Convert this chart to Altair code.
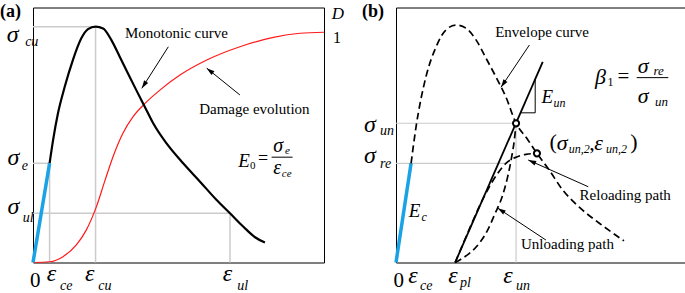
import math
import altair as alt
import pandas as pd

SERIF = "Liberation Serif"

# ---------------- panel (a): monotonic curve + damage evolution ----------------
A_EPS_CE, A_EPS_CU, A_EPS_UL = 5.7, 21.5, 67.7
A_SIG_E, A_SIG_CU, A_SIG_UL = 38.9, 92.5, 19.3

mono_strain = [5.7, 6.9, 8.6, 10.9, 13.7, 16.6, 18.9, 21.5, 24.1, 26.9, 29.8, 32.6,
               35.5, 38.4, 41.3, 45.9, 51.6, 57.4, 63.1, 67.7, 72.3, 76.3, 79.7]
mono_stress = [38.9, 48.0, 58.6, 68.9, 79.4, 87.9, 91.5, 92.5, 91.8, 87.3, 80.7, 74.2,
               67.6, 61.1, 54.6, 46.7, 38.9, 31.7, 24.5, 19.3, 14.0, 9.9, 7.8]
damage_strain = [0, 5.7, 10.3, 14.9, 18.3, 21.8, 24.6, 27.5, 30.9, 34.4, 38.5, 43.6,
                 50.5, 59.7, 71.1, 82.6, 91.8, 100]
damage_D = [0, 0.3, 2.3, 6.9, 12.7, 21.9, 31.7, 41.5, 50.7, 57.2, 62.4, 67.6,
            73.5, 79.4, 84.6, 88.3, 89.9, 90.3]

a_arrows = [(46.5, 84.6, 37.4, 68.3), (71.1, 65.7, 59.7, 76.2)]   # tail -> tip

a_sym = [("σ", -9.0, 86.6), ("σ", -8.8, 38.2), ("σ", -8.8, 19.0),
         ("ε", 4.7, -7.3), ("ε", 17.9, -7.3), ("ε", 65.2, -7.3)]
a_sub = [("cu", -2.7, 84.9), ("e", -3.9, 36.3), ("ul", -3.5, 15.9),
         ("ce", 9.3, -10.8), ("cu", 22.4, -10.8), ("ul", 70.2, -10.8)]
a_zero = [("0", -1.0, -9.5)]
a_one = [("1", 103.1, 86.1)]
a_D = [("D", 102.7, 95.5)]
a_words = [("Monotonic curve", 31.6, 88.0), ("Damage evolution", 57.1, 58.1)]
a_fE = [("E", 70.5, 37.6)]
a_fzero = [("0", 74.6, 36.7)]
a_feq = [("=", 77.3, 38.5)]
a_fsym = [("σ", 82.6, 43.5), ("ε", 82.6, 34.8)]
a_fsub = [("e", 86.6, 42.7), ("ce", 85.5, 33.4)]
a_fbar = [(82.0, 41.3, 89.2, 41.3)]
a_tag = [("(a)", -11.3, 96.1)]

# ---------------- panel (b): envelope, unloading and reloading ----------------
B_EPS_CE, B_EPS_PL, B_EPS_UN = 5.2, 20.4, 41.4
B_SIG_RE, B_SIG_UN = 38.9, 54.6
B_RE_END = 38.3

env_strain = [5.2, 6.9, 10.3, 13.8, 17.2, 20.7, 24.1, 27.6, 31.0, 34.5, 37.9, 41.4,
              45.1, 48.6, 52.8, 57.5, 63.1, 70.0, 78.6]
env_stress = [38.9, 53.1, 72.7, 84.5, 91.2, 93.1, 91.9, 87.3, 80.2, 72.7, 64.9, 54.6,
              48.7, 42.8, 36.3, 28.4, 21.8, 15.5, 8.5]
unload_strain = [41.4, 40.8, 39.9, 38.5, 36.6, 34.2, 31.6, 28.7, 25.3, 22.4, 20.4]
unload_stress = [54.6, 48.0, 41.5, 33.6, 25.8, 19.3, 12.7, 7.5, 3.6, 1.3, 0]
reload_strain = [20.4, 24.7, 28.7, 32.2, 35.1, 37.9, 41.4, 44.8, 48.6]
reload_stress = [0, 11.5, 21.9, 29.7, 35.0, 38.9, 41.3, 42.4, 42.8]
unload_line = [(20.4, 0.0, 50.6, 78.7)]
slope_tri = [(42.9, 58.7, 48.0, 58.7), (48.0, 58.7, 48.0, 71.6)]
marked_strain = [41.4, 48.6]
marked_stress = [54.6, 42.8]

b_arrows = [(46.0, 85.3, 36.2, 68.7), (66.3, 29.7, 45.6, 40.2), (51.7, 8.8, 35.1, 21.3)]

b_sym = [("σ", -11.0, 51.3), ("σ", -11.0, 38.9), ("ε", 4.2, -8.0), ("ε", 18.0, -8.0),
         ("ε", 37.0, -8.0)]
b_sub = [("un", -5.5, 50.0), ("re", -5.5, 37.1), ("ce", 8.3, -10.8), ("pl", 22.1, -9.6),
         ("un", 41.4, -10.8)]
b_psym = [("σ", 55.4, 44.1), ("ε", 68.4, 44.1)]
b_psub = [("un,2", 59.6, 42.9), ("un,2", 72.4, 42.9)]
b_zero = [("0", -0.9, -9.5)]
b_punct = [("(", 52.9, 44.5), (",", 66.6, 44.1), (")", 80.8, 44.5)]
b_E = [("E", 4.4, 18.0), ("E", 50.2, 62.4)]
b_Esub = [("c", 8.8, 16.3), ("un", 54.3, 61.1)]
b_beta = [("β", 68.6, 69.9)]
b_bsub = [("1", 72.9, 69.2)]
b_eq = [("=", 76.4, 70.4)]
b_fsym = [("σ", 83.4, 74.2), ("σ", 83.4, 62.4)]
b_fsub = [("re", 88.8, 73.5), ("un", 89.3, 61.4)]
b_fbar = [(83.0, 72.5, 93.9, 72.5)]
b_words = [("Envelope curve", 34.2, 88.5), ("Reloading path", 63.3, 24.5),
           ("Unloading path", 43.1, 5.2)]
b_tag = [("(b)", -11.7, 96.1)]

W_A, W_B, H = 291, 290, 255
BLUE = "#19a3e6"
GRID = "#cbcbcb"
HEAD = "M0,0L-0.6,2L0.6,2Z"


def X():
    return alt.X("x:Q", scale=alt.Scale(domain=[0, 100], nice=False, zero=False), axis=None)


def Y():
    return alt.Y("y:Q", scale=alt.Scale(domain=[0, 100], nice=False, zero=False), axis=None)


def curve(xs, ys, **mark):
    df = pd.DataFrame({"x": xs, "y": ys})
    return alt.Chart(df).mark_line(interpolate="monotone", **mark).encode(x=X(), y=Y())


def segs(rows, **mark):
    df = pd.DataFrame(rows, columns=["x", "y", "x2", "y2"])
    return alt.Chart(df).mark_rule(**mark).encode(x=X(), y=Y(), x2="x2:Q", y2="y2:Q")


def texts(rows, size, style="normal", weight="normal"):
    df = pd.DataFrame(rows, columns=["t", "x", "y"])
    return alt.Chart(df).mark_text(font=SERIF, fontSize=size, fontStyle=style,
                                   fontWeight=weight, align="left", baseline="alphabetic",
                                   color="black").encode(x=X(), y=Y(), text="t:N")


def arrows(rows, width):
    kx, ky = width / 100.0, H / 100.0
    heads = []
    for x0, y0, x1, y1 in rows:
        ang = math.degrees(math.atan2((x1 - x0) * kx, (y1 - y0) * ky)) % 360
        heads.append({"x": x1, "y": y1, "a": ang})
    shaft = segs(rows, color="black", strokeWidth=1)
    head = alt.Chart(pd.DataFrame(heads)).mark_point(
        shape=HEAD, filled=True, color="black", size=64, opacity=1
    ).encode(x=X(), y=Y(), angle=alt.Angle("a:Q", scale=None))
    return [shaft, head]


# ---------- panel (a) ----------
grid_a = segs([
    (0, A_SIG_CU, A_EPS_CU, A_SIG_CU), (A_EPS_CU, 0, A_EPS_CU, A_SIG_CU),
    (0, A_SIG_E, A_EPS_CE, A_SIG_E), (A_EPS_CE, 0, A_EPS_CE, A_SIG_E),
    (0, A_SIG_UL, A_EPS_UL, A_SIG_UL), (A_EPS_UL, 0, A_EPS_UL, A_SIG_UL),
], color=GRID, strokeWidth=1.5)

layers_a = [
    grid_a,
    curve(damage_strain, damage_D, color="#ff1a1a", strokeWidth=1.2),
    curve(mono_strain, mono_stress, color="black", strokeWidth=2.2),
    segs([(0, 0, A_EPS_CE, A_SIG_E)], color=BLUE, strokeWidth=3.5),
    *arrows(a_arrows, W_A),
    segs(a_fbar, color="black", strokeWidth=1),
    texts(a_sym, 24, "italic"),
    texts(a_sub, 14, "italic"),
    texts(a_zero, 21),
    texts(a_one, 16),
    texts(a_D, 17, "italic"),
    texts(a_words, 15),
    texts(a_fE, 19, "italic"),
    texts(a_fzero, 11),
    texts(a_feq, 18),
    texts(a_fsym, 20, "italic"),
    texts(a_fsub, 11, "italic"),
    texts(a_tag, 18, weight="bold"),
]

# ---------- panel (b) ----------
grid_b = segs([
    (0, B_SIG_UN, B_EPS_UN, B_SIG_UN), (B_EPS_UN, 0, B_EPS_UN, B_SIG_UN),
    (0, B_SIG_RE, B_RE_END, B_SIG_RE),
], color=GRID, strokeWidth=1.2)

dash = dict(color="black", strokeWidth=1.7, strokeDash=[7, 4])
circles = alt.Chart(pd.DataFrame({"x": marked_strain, "y": marked_stress})).mark_point(
    shape="circle", filled=True, fill="white", stroke="black", strokeWidth=2, size=38, opacity=1
).encode(x=X(), y=Y())

layers_b = [
    grid_b,
    segs([(0, 0, B_EPS_CE, B_SIG_RE)], color=BLUE, strokeWidth=3.5),
    curve(env_strain, env_stress, **dash),
    curve(unload_strain, unload_stress, **dash),
    curve(reload_strain, reload_stress, **dash),
    segs(unload_line, color="black", strokeWidth=1.8),
    segs(slope_tri, color="black", strokeWidth=1),
    circles,
    *arrows(b_arrows, W_B),
    segs(b_fbar, color="black", strokeWidth=1),
    texts(b_sym, 24, "italic"),
    texts(b_sub, 14, "italic"),
    texts(b_psym, 22, "italic"),
    texts(b_psub, 12, "italic"),
    texts(b_zero, 21),
    texts(b_punct, 22),
    texts(b_E, 19, "italic"),
    texts(b_Esub, 12, "italic"),
    texts(b_beta, 22, "italic"),
    texts(b_bsub, 12),
    texts(b_eq, 21),
    texts(b_fsym, 22, "italic"),
    texts(b_fsub, 13, "italic"),
    texts(b_words, 15),
    texts(b_tag, 18, weight="bold"),
]

panel_a = alt.layer(*layers_a).properties(
    width=W_A, height=H, view=alt.ViewBackground(stroke="black", strokeWidth=1))
panel_b = alt.layer(*layers_b).properties(
    width=W_B, height=H, view=alt.ViewBackground(stroke="black", strokeWidth=1))

chart = alt.hconcat(panel_a, panel_b, spacing=72, bounds="flush").properties(
    autosize=alt.AutoSizeParams(type="none"),
    padding={"left": 33, "top": 7.5, "right": 652, "bottom": 285.5},
).configure(background="white", font=SERIF).configure_text(font=SERIF)

chart.save("out.html", embed_options={"renderer": "svg", "actions": False})
